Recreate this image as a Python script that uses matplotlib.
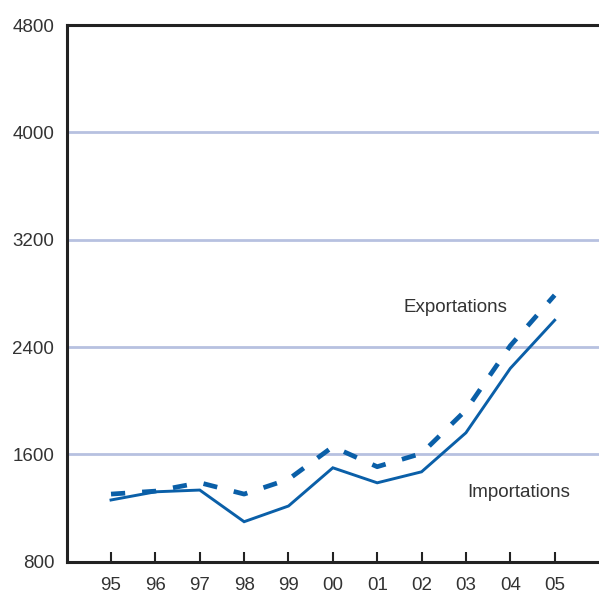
import matplotlib
matplotlib.use("Agg")
import matplotlib.pyplot as plt

years = [95, 96, 97, 98, 99, 100, 101, 102, 103, 104, 105]
year_labels = ["95", "96", "97", "98", "99", "00", "01", "02", "03", "04", "05"]
importations = [1260, 1321, 1334, 1098, 1215, 1500, 1388, 1470, 1761, 2241, 2600]
exportations = [1304, 1326, 1389, 1304, 1414, 1657, 1508, 1607, 1930, 2410, 2787]
y_ticks = [800, 1600, 2400, 3200, 4000, 4800]

BLUE = "#0a5fa8"
GRID = "#b7c1e0"

plt.rcParams["font.family"] = ["Liberation Sans", "DejaVu Sans"]

fig = plt.figure(figsize=(5.99, 5.99), dpi=100)
ax = fig.add_axes([0.1113, 0.0623, 0.8887, 0.8957])

ax.plot(years, importations, color=BLUE, lw=2.1, solid_joinstyle="miter", zorder=3)
ax.plot(years, exportations, color=BLUE, lw=3.4, dashes=(3.0, 3.6), zorder=3)

ax.set_xlim(94, 106)
ax.set_ylim(800, 4800)
ax.set_yticks(y_ticks)
ax.set_yticklabels([str(v) for v in y_ticks])
ax.set_xticks(years)
ax.set_xticklabels(year_labels)

for v in y_ticks[1:-1]:
    ax.axhline(v, color=GRID, lw=2, zorder=1)

for s in ["left", "top", "bottom"]:
    ax.spines[s].set_color("#222222")
    ax.spines[s].set_linewidth(2.2)
ax.spines["right"].set_visible(False)

ax.tick_params(axis="x", direction="in", length=7, width=1.5, color="#222222",
               labelsize=13.5, pad=11, labelcolor="#333333")
ax.tick_params(axis="y", length=0, labelsize=13.5, pad=9, labelcolor="#333333")

ax.text(101.59, 2695, "Exportations", fontsize=13.5, color="#333333",
        ha="left", va="center")
ax.text(103.02, 1315, "Importations", fontsize=13.5, color="#333333",
        ha="left", va="center")

fig.savefig("out.png", dpi=100)
